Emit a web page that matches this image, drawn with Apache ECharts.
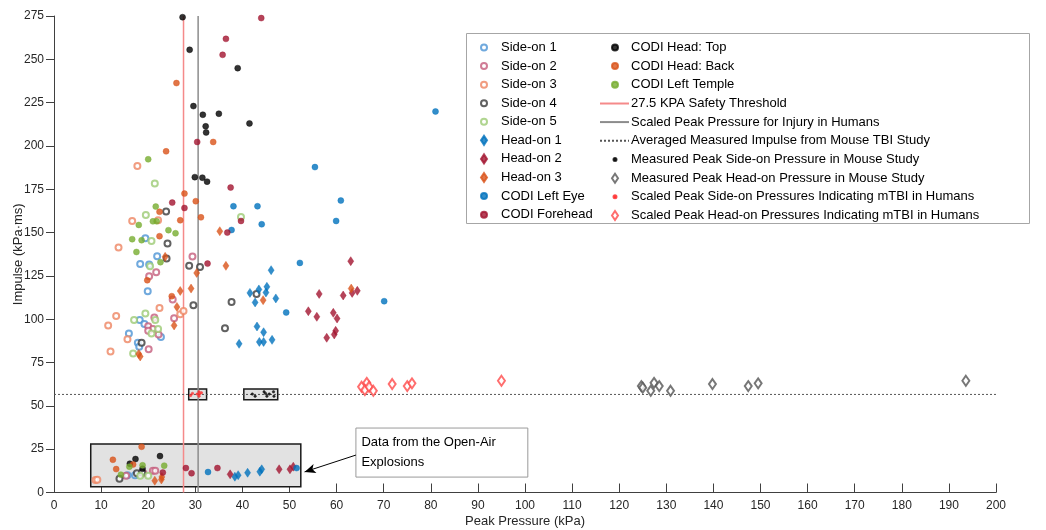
<!DOCTYPE html>
<html><head><meta charset="utf-8">
<script src="https://cdn.jsdelivr.net/npm/echarts@6/dist/echarts.min.js"></script>
<style>html,body{margin:0;padding:0;background:#fff}#c{width:1046px;height:530px}</style>
</head><body><div id="c"></div>
<script>
// ---- data (Peak Pressure kPa, Impulse kPa·ms) ----
const sideOn1 = [[19.4,146.7],[21.9,136.3],[18.3,131.9],[20.2,131.6],[19.9,116.2],[18.2,99.5],[19.2,97.3],[15.9,91.8],[22.7,89.7],[17.8,86.4],[18.1,84.1],[15.6,9.9],[17.2,9.9]];
const sideOn2 = [[29.4,136.2],[20.2,124.8],[21.7,127.1],[25.2,111.4],[21.3,101],[25.5,100.6],[20.0,96],[21.0,94.4],[20.0,93.3],[22.2,91.2],[20.1,82.7],[15.3,9.7],[21.0,12.6],[21.5,12.6],[19.0,11.1]];
const sideOn3 = [[17.7,188.4],[16.6,156.7],[22.1,157.1],[13.7,141.4],[22.4,106.5],[26.8,102.9],[27.5,104.8],[13.2,101.9],[11.5,96.4],[15.6,88.5],[12.0,81.4],[8.8,7.2],[9.2,7.3]];
const sideOn4 = [[23.8,162.1],[24.1,143.7],[23.9,135],[28.7,130.8],[31.0,130.2],[29.6,108.1],[18.6,86.4],[37.7,110],[36.3,94.8],[43.0,114.6],[13.9,8.0],[17.6,11.1],[18.7,11.5]];
const sideOn5 = [[21.4,178.4],[39.7,159.0],[19.5,160.2],[20.7,145.2],[20.4,130.6],[19.4,103.3],[17.0,99.5],[21.5,99.5],[22.1,94.3],[20.7,91.8],[16.8,80.2],[18.3,9.7],[20.0,9.7]];
const headOn1 = [[41.6,115.2],[43.5,117.2],[45.2,118.7],[45.0,115.4],[42.7,109.7],[47.1,112.0],[46.1,128.3],[43.1,95.8],[44.5,92.5],[39.3,85.8],[43.6,86.9],[44.5,86.9],[46.3,88.1],[38.4,9.1],[39.1,10],[41.1,11.4],[43.7,12.0],[44.1,13.4]];
const headOn2 = [[63.0,133.5],[56.3,114.6],[61.4,113.7],[63.3,115.2],[64.4,116.4],[54.0,104.6],[55.8,101.4],[59.3,103.7],[60.1,100.4],[57.9,89.3],[59.5,91.2],[59.8,93.3],[37.4,10.5],[47.8,13.4],[50.1,13.4],[50.8,14.9]];
const headOn3 = [[18.0,80],[18.3,78.5],[25.5,96.4],[26.1,107.1],[26.8,116.3],[29.1,117.7],[30.3,126.7],[36.5,130.8],[35.2,150.8],[44.4,111.0],[63.1,117.7],[23.6,136],[21.4,6.8],[22.8,7.5],[22.9,9]];
const codiEye = [[55.4,187.8],[60.9,168.5],[38.1,165.2],[43.2,165.2],[59.9,156.7],[44.1,154.8],[37.7,151.5],[52.2,132.5],[49.3,103.9],[70.1,110.4],[81.0,219.9],[32.7,11.8],[51.5,14.1]];
const codiForehead = [[44.0,273.8],[36.5,261.8],[35.8,252.6],[30.4,202.3],[37.5,176],[25.1,167.3],[27.7,164.2],[39.7,156.7],[36.8,150],[32.6,132.1],[28.0,14.1],[29.2,11.1],[34.7,14.1],[23.1,11.5]];
const codiTop = [[27.3,274.3],[28.8,255.5],[39.0,244.9],[29.6,223],[31.6,218],[35.0,218.6],[32.2,211.3],[32.3,207.8],[41.5,213],[29.9,182],[31.5,181.7],[32.5,179.4],[17.3,19.3],[16.1,16.6],[22.5,21.0],[18.8,13.7]];
const codiBack = [[26.0,236.3],[23.8,196.9],[33.8,202.3],[27.7,172.5],[30.1,168.1],[22.4,162],[26.8,157.1],[31.2,158.8],[22.4,147.9],[19.8,122.5],[25.0,113.3],[18.6,26.4],[12.5,18.9],[13.2,13.5],[16.8,16.2]];
const codiTemple = [[20.0,192.3],[21.6,165],[21.0,156.5],[21.8,156.5],[18.0,154.4],[24.3,151.4],[25.8,149.6],[16.6,146.2],[18.6,145.6],[17.5,138.8],[22.6,132.9],[14.2,10.3],[16.0,14.9],[18.8,15.7],[23.4,15.5]];
const mouseSide = [[42.1,56.8],[42.7,55.6],[44.6,58.1],[44.9,57.2],[45.7,56.8],[46.6,58.1],[45.2,55.6],[46.7,55.6]];
const mouseHead = [[124.7,61.4],[125.0,60.5],[126.7,58.7],[127.4,63.3],[128.5,61.4],[130.9,58.7],[139.8,62.6],[147.4,61.4],[149.5,63.0],[193.6,64.5]];
const humanSide = [[29.0,56.0],[29.4,57.2],[30.4,56.8],[30.8,58.1],[30.9,56.8],[31.3,57.5],[30.8,55.6]];
const humanHead = [[65.3,61.0],[66.4,63.3],[66.0,59.1],[66.9,61.0],[67.8,58.7],[71.8,62.6],[75.0,61.4],[76.0,63.0],[95.0,64.5]];
const safetyThreshold = 27.5;
const scaledInjury = 30.6;
const avgImpulse = 56.6;
const xTicks = {min: 0, max: 200, interval: 10};
const yTicks = {min: 0, max: 275, interval: 25};

const FONT = "'Liberation Sans', Arial, sans-serif";
const chart = echarts.init(document.getElementById('c'));

function sc(name, data, symbol, color, size, extra) {
  const hollow = symbol.startsWith('empty');
  return Object.assign({
    name, type: 'scatter', data, symbol, symbolSize: size,
    itemStyle: hollow ? {color: color, borderColor: color, borderWidth: 0.9} : {color: color, borderColor: color, borderWidth: 0.5},
    z: 5
  }, extra || {});
}

const ROW0 = 41, ROWH = 18.67, TXTH = 13.1;
function leg(names, row, step, left, iw, ih, padLeft) {
  return {
    data: names, orient: 'vertical', left: left, top: ROW0 + row * ROWH,
    itemWidth: iw, itemHeight: ih, itemGap: step * ROWH - TXTH, selectedMode: false, padding: 0,
    textStyle: {fontSize: 13, color: '#000', fontFamily: FONT, padding: [0, 0, 0, padLeft]}
  };
}
const hideSym = {color: 'rgba(0,0,0,0)', borderColor: 'rgba(0,0,0,0)', borderWidth: 0};

const option = {
  animation: false,
  backgroundColor: '#fff',
  textStyle: {fontFamily: FONT},
  grid: {left: 54, right: 50, top: 16, bottom: 37.5, outerBoundsMode: 'none', containLabel: false},
  xAxis: {
    type: 'value', min: xTicks.min, max: xTicks.max, interval: xTicks.interval,
    name: 'Peak Pressure (kPa)', nameLocation: 'middle', nameGap: 22, nameMoveOverlap: false,
    nameTextStyle: {fontSize: 13, color: '#262626'},
    axisLine: {show: true, onZero: false, lineStyle: {color: '#404040', width: 1}},
    axisTick: {show: true, inside: true, length: 9, lineStyle: {color: '#404040'}},
    axisLabel: {fontSize: 12, color: '#262626', margin: 7},
    splitLine: {show: false}
  },
  yAxis: {
    type: 'value', min: yTicks.min, max: yTicks.max, interval: yTicks.interval,
    name: 'Impulse (kPa·ms)', nameLocation: 'middle', nameGap: 29.5, nameMoveOverlap: false,
    nameTextStyle: {fontSize: 13, color: '#262626'},
    axisLine: {show: true, onZero: false, lineStyle: {color: '#404040', width: 1}},
    axisTick: {show: true, inside: false, length: 8, lineStyle: {color: '#404040'}},
    axisLabel: {fontSize: 12, color: '#262626', margin: 10},
    splitLine: {show: false}
  },
  legend: [
    leg(['Side-on 1','Side-on 2','Side-on 3','Side-on 4','Side-on 5','Head-on 1','Head-on 2','Head-on 3','CODI Left Eye','CODI Forehead'], 0, 1, 480, 6, 9, 9),
    leg(['CODI Head: Top','CODI Head: Back','CODI Left Temple'], 0, 1, 611, 6, 6, 8),
    leg([
      {name: '27.5 KPA Safety Threshold', itemStyle: hideSym},
      {name: 'Scaled Peak Pressure for Injury in Humans', itemStyle: hideSym},
      {name: 'Averaged Measured Impulse from Mouse TBI Study', itemStyle: hideSym}], 3, 1, 599, 29, 6, -3),
    leg(['Measured Peak Side-on Pressure in Mouse Study','Scaled Peak Side-on Pressures Indicating mTBI in Humans'], 6, 2, 612.5, 3, 3, 9.5),
    leg(['Measured Peak Head-on Pressure in Mouse Study','Scaled Peak Head-on Pressures Indicating mTBI in Humans'], 7, 2, 611, 6, 9, 8)
  ],
  graphic: {elements: [{type: 'rect', z: 3, shape: {x: 466.5, y: 33.5, width: 563, height: 190}, style: {fill: '#fff', stroke: '#a6a6a6', lineWidth: 1}}]},
  series: [
    // annotation boxes
    {type: 'scatter', data: [], silent: true, z: 1,
      markArea: {silent: true, label: {show: false}, data: [
        [{coord: [7.8, 28], itemStyle: {color: '#e2e2e2', borderColor: '#1a1a1a', borderWidth: 1.5}}, {coord: [52.4, 3.3]}],
        [{coord: [28.6, 59.8], itemStyle: {color: '#e2e2e2', borderColor: '#1a1a1a', borderWidth: 1.5}}, {coord: [32.4, 53.6]}],
        [{coord: [40.3, 59.8], itemStyle: {color: '#e2e2e2', borderColor: '#1a1a1a', borderWidth: 1.5}}, {coord: [47.5, 53.6]}],
        [{coord: [64.1, 37.2], itemStyle: {color: '#fff', borderColor: '#9a9a9a', borderWidth: 1}}, {coord: [100.6, 8.9]}]
      ]},
      markPoint: {silent: true, symbol: 'rect', symbolSize: 1, itemStyle: {color: 'rgba(0,0,0,0)'},
        data: [{coord: [64.1, 37.2], label: {show: true, position: [6, 5], formatter: 'Data from the Open-Air\nExplosions', fontSize: 13, lineHeight: 20, color: '#000', fontFamily: FONT, align: 'left', verticalAlign: 'top'}}]},
      markLine: {silent: true, symbol: ['none', 'arrow'], symbolSize: [7, 11], lineStyle: {color: '#000', width: 1, type: 'solid'}, label: {show: false},
        data: [[{coord: [64.1, 21.6]}, {coord: [53.2, 11.9]}]]}
    },
    sc('Side-on 1', sideOn1, 'emptyCircle', '#4c93d4', 6),
    sc('Side-on 2', sideOn2, 'emptyCircle', '#c45c7c', 6),
    sc('Side-on 3', sideOn3, 'emptyCircle', '#ee8562', 6),
    sc('Side-on 4', sideOn4, 'emptyCircle', '#3a3a3a', 6),
    sc('Side-on 5', sideOn5, 'emptyCircle', '#9ccb74', 6),
    sc('Head-on 1', headOn1, 'diamond', '#0072BD', [6, 9]),
    sc('Head-on 2', headOn2, 'diamond', '#A2142F', [6, 9]),
    sc('Head-on 3', headOn3, 'diamond', '#D95319', [6, 9]),
    sc('CODI Left Eye', codiEye, 'circle', '#0072BD', 6),
    sc('CODI Forehead', codiForehead, 'circle', '#A2142F', 6),
    sc('CODI Head: Top', codiTop, 'circle', '#000000', 6),
    sc('CODI Head: Back', codiBack, 'circle', '#D95319', 6),
    sc('CODI Left Temple', codiTemple, 'circle', '#77AC30', 6),
    {name: '27.5 KPA Safety Threshold', type: 'line', symbol: 'none', z: 4,
      data: [[safetyThreshold, yTicks.min], [safetyThreshold, yTicks.max]],
      lineStyle: {color: '#f58a8a', width: 1.5}, itemStyle: {color: '#f58a8a'}},
    {name: 'Scaled Peak Pressure for Injury in Humans', type: 'line', symbol: 'none', z: 4,
      data: [[scaledInjury, yTicks.min], [scaledInjury, yTicks.max]],
      lineStyle: {color: '#8c8c8c', width: 1.5}, itemStyle: {color: '#8c8c8c'}},
    {name: 'Averaged Measured Impulse from Mouse TBI Study', type: 'line', symbol: 'none', z: 4,
      data: [[xTicks.min, avgImpulse], [xTicks.max, avgImpulse]],
      lineStyle: {color: '#555', width: 1, type: [2, 2]}, itemStyle: {color: '#555'}},
    sc('Measured Peak Side-on Pressure in Mouse Study', mouseSide, 'circle', '#000', 2.5),
    sc('Measured Peak Head-on Pressure in Mouse Study', mouseHead, 'emptyDiamond', '#555555', [7, 10]),
    sc('Scaled Peak Side-on Pressures Indicating mTBI in Humans', humanSide, 'circle', '#ff2a2a', 2.5),
    sc('Scaled Peak Head-on Pressures Indicating mTBI in Humans', humanHead, 'emptyDiamond', '#ff4a4a', [7, 10])
  ]
};
chart.setOption(option);
</script></body></html>
